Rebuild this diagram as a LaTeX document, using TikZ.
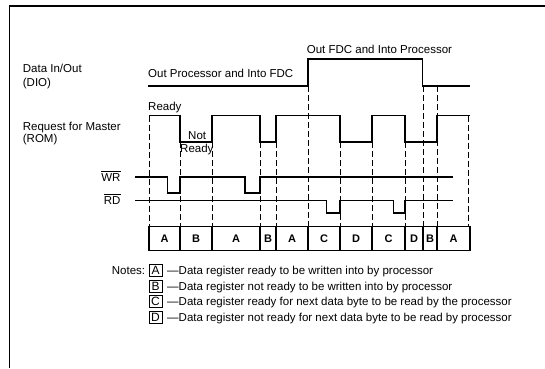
\documentclass[tikz,border=0pt]{standalone}
\usepackage{fontspec}
\setmainfont{Liberation Sans}
\begin{document}
\begin{tikzpicture}[x=1pt,y=-1pt,
  sig/.style={line width=1.15pt, line join=miter},
  guide/.style={line width=0.9pt, dash pattern=on 6pt off 3pt},
  lbl/.style={inner sep=0pt, anchor=base west, font=\fontsize{11.5}{13}\selectfont},
  lblr/.style={inner sep=0pt, anchor=base east, font=\fontsize{11.5}{13}\selectfont},
  cell/.style={font=\bfseries\fontsize{11}{13}\selectfont, inner sep=0pt},
  keybox/.style={draw, line width=0.9pt, minimum width=13pt, minimum height=12pt, inner sep=0pt, font=\fontsize{12}{13}\selectfont},
  frame/.style={line width=1.6pt}]
\useasboundingbox (0,0) rectangle (545,368);
% frame
\draw[frame] (545,6) -- (9.5,6) -- (9.5,368);
% left labels
\node[lbl] (dio1) at (22.7,72.7) {Data In/Out};
\node[lbl] (dio2) at (22.7,86.2) {(DIO)};
\node[lbl] (rom1) at (22.7,130) {Request for Master};
\node[lbl] (rom2) at (22.7,142) {(ROM)};
\node[lblr] (wr) at (120.7,181) {$\overline{\mbox{WR}}$};
\node[lblr] (rd) at (120.7,204) {$\overline{\mbox{RD}}$};
% signal labels
\node[lbl] (opif) at (148,77.7) {Out Processor and Into FDC};
\node[lbl] (ofip) at (306.7,53.3) {Out FDC and Into Processor};
\node[lbl] (rdy1) at (148,110) {Ready};
\node[lbl] (nrdy1) at (188,139.5) {Not};
\node[lbl] (nrdy2) at (180,152.7) {Ready};
% DIO
\draw[sig] (148,86) -- (308,86) -- (308,59) -- (422.7,59) -- (422.7,86) -- (470,86);
% ROM
\draw[sig] (149,115.5) -- (180,115.5) -- (180,142) -- (212,142) -- (212,115.5) -- (260,115.5) -- (260,142) -- (276,142) -- (276,115.5) -- (340,115.5) -- (340,142) -- (372,142) -- (372,115.5) -- (405,115.5) -- (405,142) -- (437,142) -- (437,115.5) -- (470,115.5);
% WR
\draw[sig] (135,177) -- (167.7,177) -- (167.7,193) -- (180,193) -- (180,177) -- (245,177) -- (245,193) -- (260,193) -- (260,177) -- (453,177);
% RD
\draw[sig] (135,200.5) -- (326.7,200.5) -- (326.7,213) -- (340,213) -- (340,200.5) -- (393.3,200.5) -- (393.3,213) -- (405,213) -- (405,200.5) -- (453,200.5);
% guides
\foreach \x/\y in {149/115.5,180/142,212/142,260/142,276/142,308/86,340/142,372/142,405/142,423/86,437/86,468.5/115.5}
  \draw[guide] (\x,\y) -- (\x,226.5);
% state row
\draw[sig] (149,226.5) rectangle (470,250.5);
\foreach \x in {180,212,260,276,308,340,372,405,423,437}
  \draw[sig] (\x,226.5) -- (\x,250.5);
\foreach \a/\b/\t in {149/180/A,180/212/B,212/260/A,260/276/B,276/308/A,308/340/C,340/372/D,372/405/C,405/423/D,423/437/B,437/470/A}
  \node[cell] at ({(\a+\b)/2},238.5) {\t};
% notes
\node[lbl] (notes) at (111.7,274) {Notes:};
\node[keybox] (ka) at (155.5,270) {A};
\node[keybox] (kb) at (155.5,286) {B};
\node[keybox] (kc) at (155.5,301.7) {C};
\node[keybox] (kd) at (155.5,317.2) {D};
\node[lbl] (ta) at (167,274) {—Data register ready to be written into by processor};
\node[lbl] (tb) at (167,290) {—Data register not ready to be written into by processor};
\node[lbl] (tc) at (167,305.7) {—Data register ready for next data byte to be read by the processor};
\node[lbl] (td) at (167,321.2) {—Data register not ready for next data byte to be read by processor};
\end{tikzpicture}
\end{document}
